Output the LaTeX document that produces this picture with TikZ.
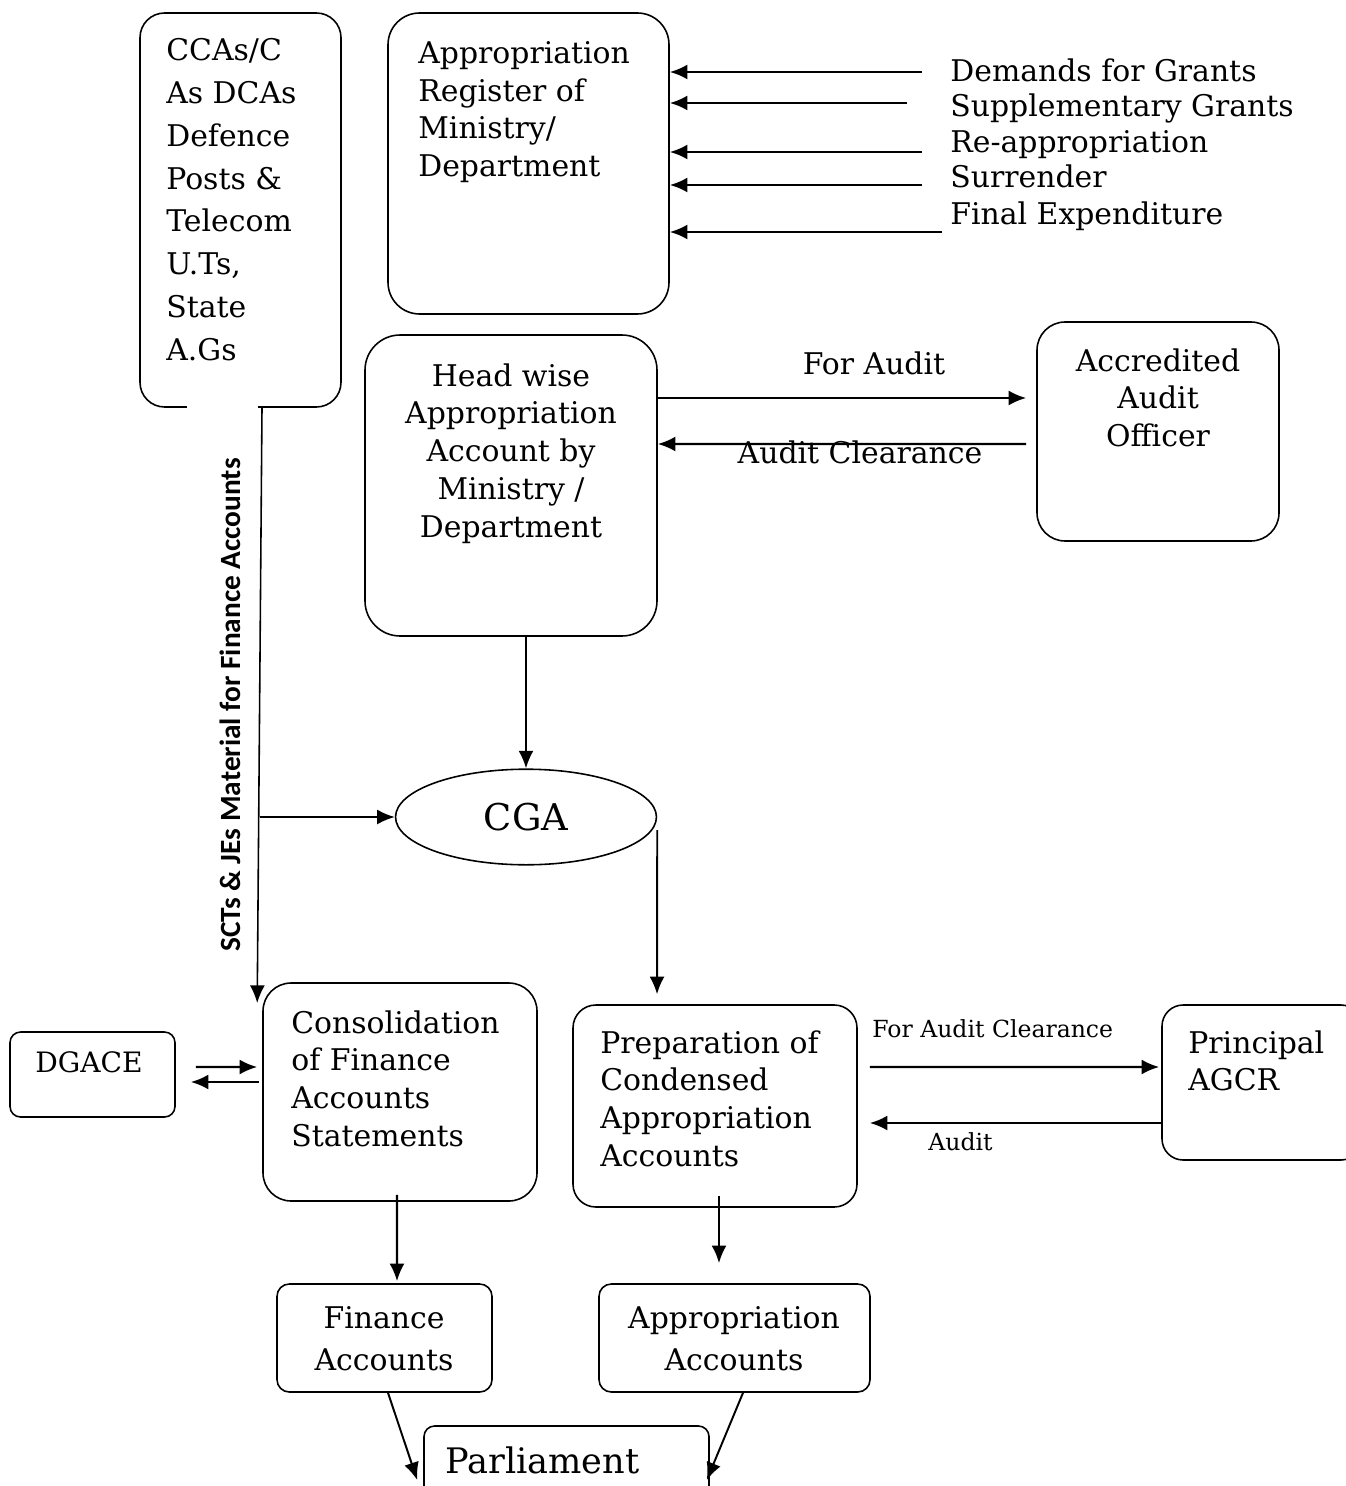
\documentclass[tikz,border=0pt]{standalone}
\usepackage{fontspec}
\setmainfont{DejaVu Serif}
\newfontfamily\sidefont{Carlito}
\usetikzlibrary{arrows.meta,shapes.geometric,fit}

\begin{document}
\begin{tikzpicture}[x=0.02cm,y=-0.02cm,
		box/.style={draw, line width=0.9pt, rounded corners=#1, inner sep=0pt},
		box/.default=12pt,
		txt/.style={inner sep=0pt, align=left, font=\fontsize{17}{21.5}\selectfont},
		small/.style={inner sep=0pt, font=\fontsize{13.4}{16}\selectfont},
		arr/.style={-{Latex[length=10pt,width=8.5pt]}, line width=1.3pt}]
		\useasboundingbox (0,0) rectangle (1345,1486);
		% boxes
		\node[box=14pt, fit={(140,13) (341,407)}] (ccas) {};
		\node[box=18pt, fit={(388,13) (669,314)}] (appreg) {};
		\node[box=20pt, fit={(365,335) (657,636)}] (headwise) {};
		\node[box=16pt, fit={(1037,322) (1279,541)}] (aao) {};
		\node[draw, ellipse, line width=0.9pt, inner sep=0pt, minimum width=148.5pt, minimum height=54.4pt,
			font=\fontsize{21}{25}\selectfont] (cga) at (526,817) {CGA};
		\node[box=6pt, fit={(10,1032) (175,1117)}] (dgace) {};
		\node[box=16pt, fit={(263,983) (537,1201)}] (consol) {};
		\node[box=13pt, fit={(573,1005) (857,1207)}] (prep) {};
		\node[box=12pt, fit={(1162,1005) (1362,1160)}] (agcr) {};
		\node[box=7pt, fit={(277,1284) (492,1392)}] (finacc) {};
		\node[box=7pt, fit={(599,1284) (870,1392)}] (appacc) {};
		\node[box=6pt, fit={(424,1426) (709,1530)}] (parl) {};
		\draw[white, line width=3pt] (187,407) -- (258,407);
		% texts
		\node[txt, font=\fontsize{17}{24.4}\selectfont, anchor=north west] (ccastext) at (166,38)
			{CCAs/C\\As DCAs\\Defence\\Posts \&\\Telecom\\U.Ts,\\State\\A.Gs};
		\node[txt, anchor=north west] (appregtext) at (418,41) {Appropriation\\Register of\\Ministry/\\Department};
		\node[txt, align=center, anchor=north] (headwisetext) at (511,363)
			{Head wise\\Appropriation\\Account by\\Ministry /\\Department};
		\node[txt, align=center, anchor=north] (aaotext) at (1158,348) {Accredited\\Audit\\Officer};
		\node[txt, font=\fontsize{16}{20}\selectfont, anchor=north west] (dgacetext) at (35,1051) {DGACE};
		\node[txt, anchor=north west] (consoltext) at (291,1010) {Consolidation\\of Finance\\Accounts\\Statements};
		\node[txt, anchor=north west] (preptext) at (600,1030) {Preparation of\\Condensed\\Appropriation\\Accounts};
		\node[txt, anchor=north west] (agcrtext) at (1188,1030) {Principal\\AGCR};
		\node[txt, font=\fontsize{17}{23.8}\selectfont, align=center, anchor=north] (finacctext) at (384,1306)
			{Finance\\Accounts};
		\node[txt, font=\fontsize{17}{23.8}\selectfont, align=center, anchor=north] (appacctext) at (734,1306)
			{Appropriation\\Accounts};
		\node[txt, font=\fontsize{20}{24}\selectfont, anchor=base west] (parltext) at (445,1473) {Parliament};
		% inputs to the register
		\node[txt, anchor=base west] (demand) at (950,82) {Demands for Grants};
		\node[txt, anchor=base west] (supp) at (950,117) {Supplementary Grants};
		\node[txt, anchor=base west] (reapp) at (950,153) {Re-appropriation};
		\node[txt, anchor=base west] (surr) at (950,188) {Surrender};
		\node[txt, anchor=base west] (finexp) at (950,225) {Final Expenditure};
		\draw[arr] ([shift={(-28,-10)}]demand.base west) coordinate (d1) -- (d1 -| appreg.east);
		\draw[arr] ([shift={(-43,-14)}]supp.base west) coordinate (d2) -- (d2 -| appreg.east);
		\draw[arr] ([shift={(-28,-1)}]reapp.base west) coordinate (d3) -- (d3 -| appreg.east);
		\draw[arr] ([shift={(-28,-3)}]surr.base west) coordinate (d4) -- (d4 -| appreg.east);
		\draw[arr] ([shift={(-8,7)}]finexp.base west) coordinate (d5) -- (d5 -| appreg.east);
		% audit of head wise account
		\node[txt, anchor=base] (foraudit) at (874,375) {For Audit};
		\node[txt, anchor=base] (clearance) at (860,463) {Audit Clearance};
		\draw[arr] ([shift={(0,-87.5)}]headwise.east) -- ([shift={(-10,-33.5)}]aao.west);
		\draw[arr] ([shift={(-10,12.5)}]aao.west) -- ([shift={(0,-41.5)}]headwise.east);
		\draw[arr, line width=1.1pt] (cga.north |- headwise.south) -- (cga.north);
		% SCTs and JEs
		\node[rotate=90, inner sep=0pt, font=\sidefont\bfseries\fontsize{16.7}{19}\selectfont] (scts) at (230,705)
			{SCTs \& JEs Material for Finance Accounts};
		\coordinate (branch) at (260,817);
		\draw[-{Latex[length=10pt,width=8.5pt]}, line width=0.9pt] ([shift={(21.5,0)}]ccas.south)
			-- ([shift={(-5,-89)}]consol.west);
		\draw[arr, line width=1.1pt] (branch) -- (cga.west);
		\draw[arr, line width=1.1pt] ([shift={(0,13)}]cga.east) -- ([shift={(-58,-10)}]prep.north);
		% DGACE
		\draw[arr] ([shift={(20,-7.5)}]dgace.east) -- ([shift={(-5,-25)}]consol.west);
		\draw[arr] ([shift={(-3,-10)}]consol.west) -- ([shift={(15,7.5)}]dgace.east);
		% AGCR
		\node[small, anchor=base west] (forclear) at (872,1037) {For Audit Clearance};
		\node[small, anchor=base west] (audit) at (928,1150) {Audit};
		\draw[arr] ([shift={(12,-39)}]prep.east) -- ([shift={(-2,-15.5)}]agcr.west);
		\draw[arr] ([shift={(0,40.5)}]agcr.west) -- ([shift={(12,17)}]prep.east);
		% to the accounts and parliament
		\draw[arr] ([shift={(-3,-7)}]consol.south) -- ([shift={(12.5,-2)}]finacc.north);
		\draw[arr] ([shift={(4,-12)}]prep.south) -- ([shift={(-15.5,-20)}]appacc.north);
		\draw[arr, line width=1.1pt] ([shift={(3.5,0)}]finacc.south) -- ([shift={(-6,2)}]parl.west);
		\draw[arr, line width=1.1pt] ([shift={(8.5,0)}]appacc.south) -- ([shift={(-3,2)}]parl.east);
	\end{tikzpicture}
\end{document}
